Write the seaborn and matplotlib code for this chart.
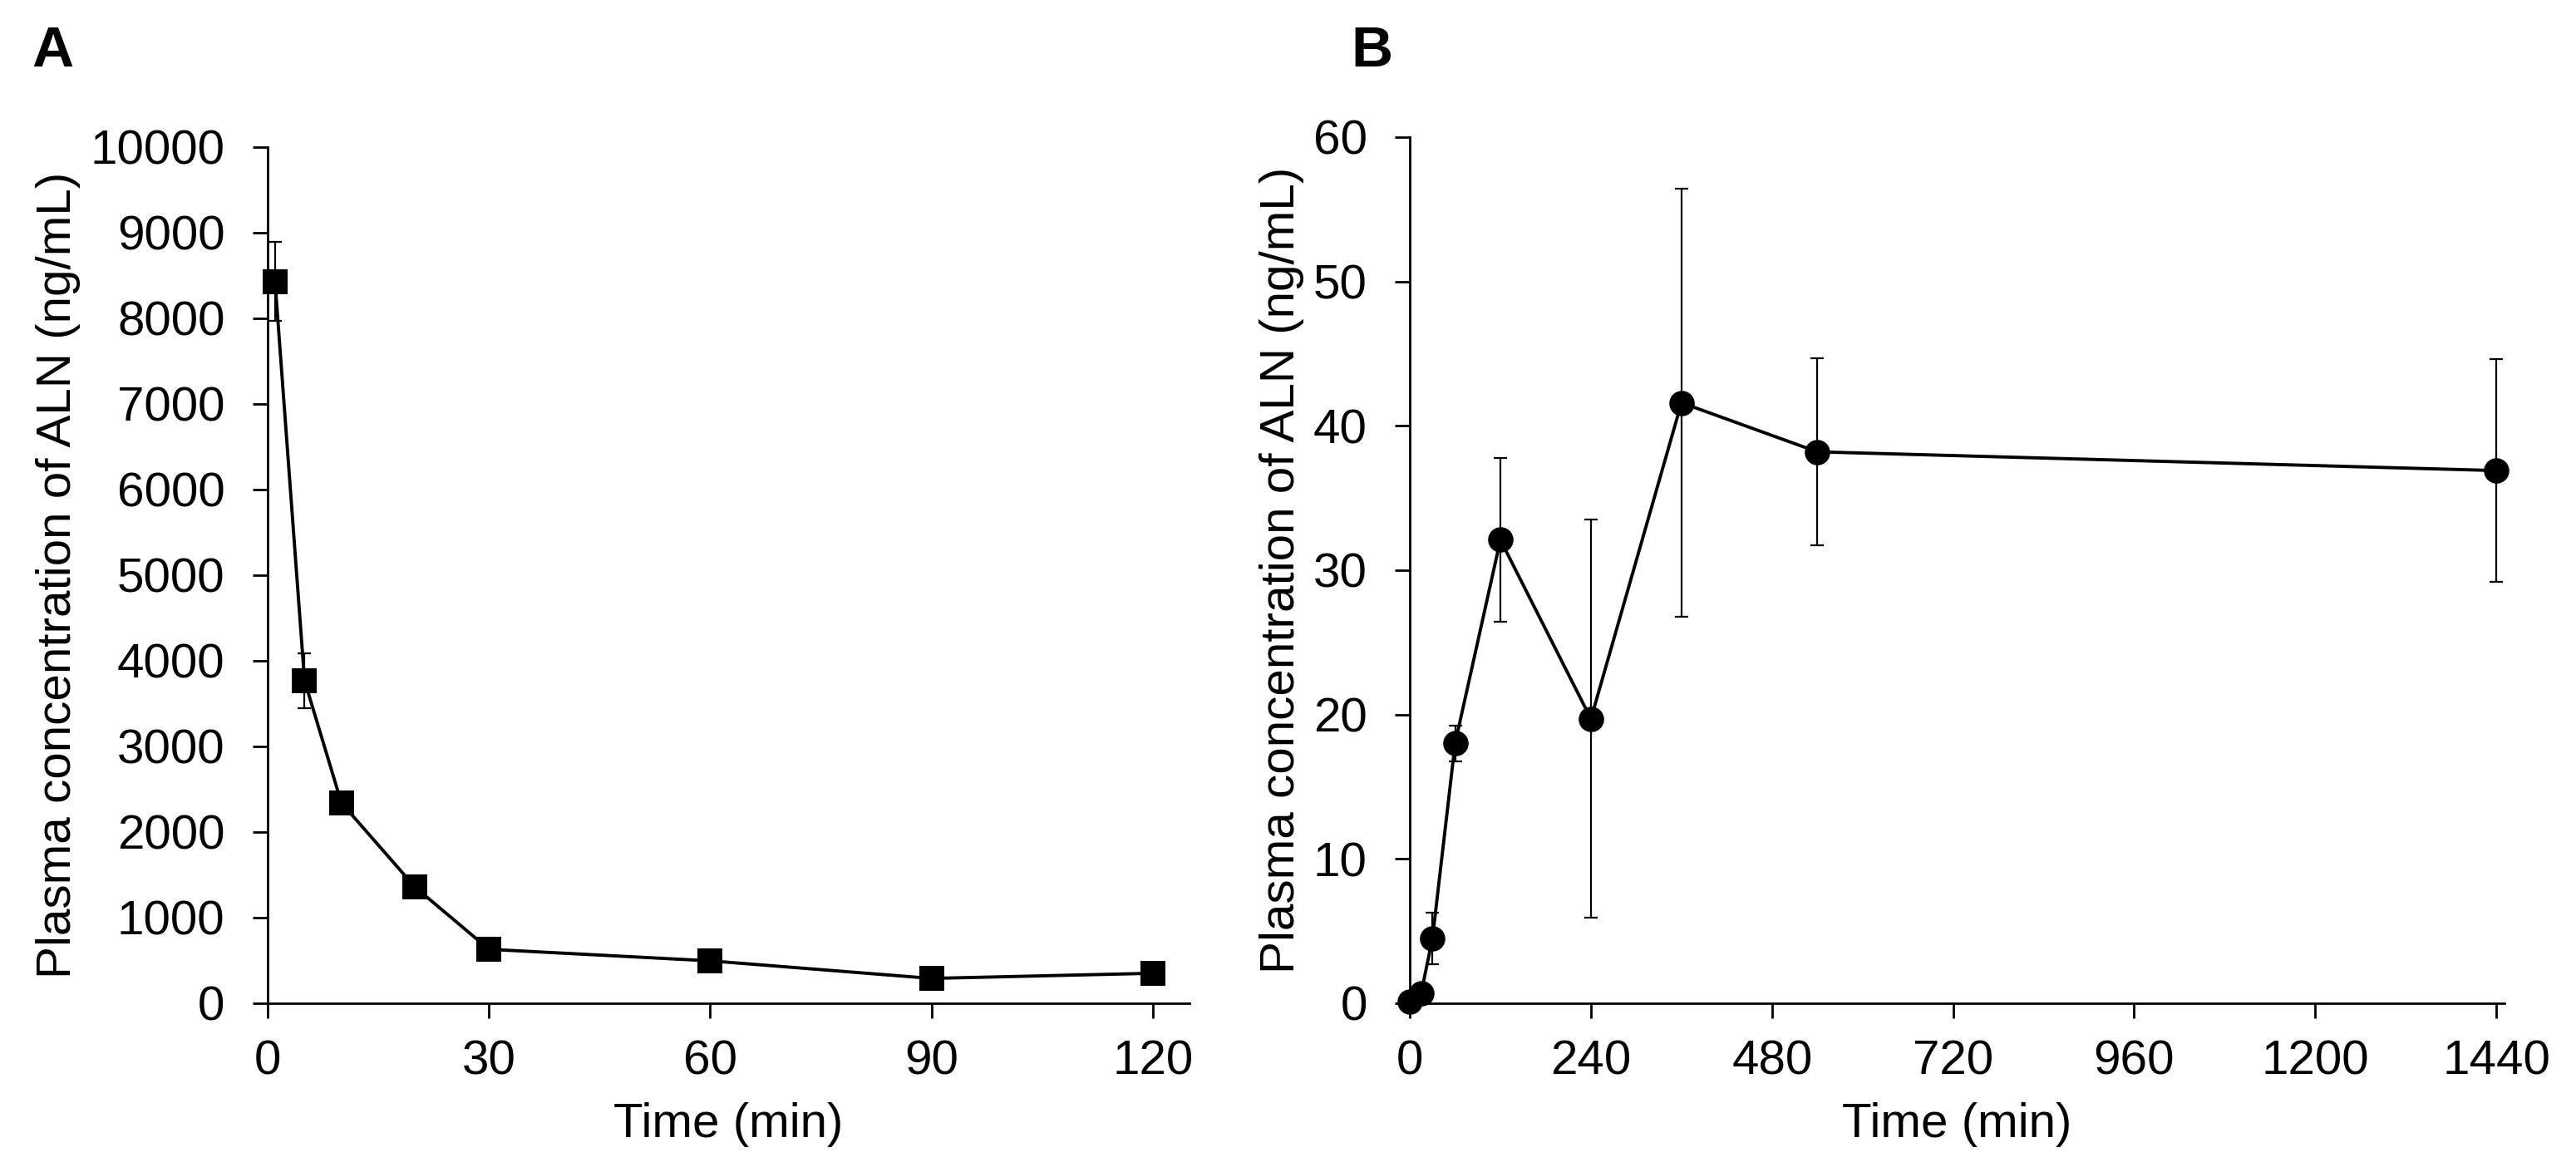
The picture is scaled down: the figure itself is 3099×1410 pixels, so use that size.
import matplotlib
matplotlib.use("Agg")
import matplotlib.pyplot as plt
import seaborn as sns

# Panel A: plasma ALN after i.v. dosing (mean, SD)
time_a = [1, 5, 10, 20, 30, 60, 90, 120]
conc_a = [8430, 3770, 2340, 1355, 630, 495, 290, 350]
sd_a = [460, 320, 90, 70, 50, 40, 30, 40]

# Panel B: plasma ALN, longer sampling (mean, SD)
time_b = [0, 15, 30, 60, 120, 240, 360, 540, 1440]
conc_b = [0.1, 0.7, 4.5, 18.0, 32.1, 19.7, 41.6, 38.2, 36.9]
sd_b = [0.0, 0.3, 1.8, 1.25, 5.7, 13.8, 14.8, 6.5, 7.7]

xticks_a = [0, 30, 60, 90, 120]
yticks_a = [0, 1000, 2000, 3000, 4000, 5000, 6000, 7000, 8000, 9000, 10000]
xticks_b = [0, 240, 480, 720, 960, 1200, 1440]
yticks_b = [0, 10, 20, 30, 40, 50, 60]

ylabel = "Plasma concentration of ALN (ng/mL)"
xlabel = "Time (min)"

sns.set_style("ticks")
plt.rcParams['font.family'] = ['Liberation Sans', 'DejaVu Sans']
# seaborn greys -> plain black like the original figure
plt.rcParams['text.color'] = 'black'
plt.rcParams['axes.labelcolor'] = 'black'
plt.rcParams['xtick.color'] = 'black'
plt.rcParams['ytick.color'] = 'black'
plt.rcParams['axes.edgecolor'] = 'black'

fig = plt.figure(figsize=(15.495, 7.05), dpi=200)
ax_a = fig.add_axes([0.1039, 0.144, 0.3579, 0.7305])
ax_b = fig.add_axes([0.5473, 0.144, 0.4250, 0.7390])


def draw_panel(ax, t, c, sd, marker, xlim, ylim, xticks, yticks):
    ax.errorbar(t, c, yerr=sd, fmt='none', ecolor='black', elinewidth=0.8,
                capsize=3, capthick=0.8, zorder=2, clip_on=False)
    sns.lineplot(x=t, y=c, ax=ax, color='black', linewidth=1.4, marker=marker,
                 markersize=11, markeredgewidth=0, markerfacecolor='black',
                 zorder=3, clip_on=False)
    ax.set_xlim(*xlim)
    ax.set_ylim(*ylim)
    ax.set_xticks(xticks)
    ax.set_yticks(yticks)
    ax.set_xlabel(xlabel, fontsize=21, labelpad=8, color='black')
    ax.set_ylabel(ylabel, fontsize=21, labelpad=4, color='black')
    ax.tick_params(axis='y', direction='out', length=6.5, width=1.0,
                   pad=12, labelsize=21, color='black', labelcolor='black')
    ax.tick_params(axis='x', direction='out', length=6.5, width=1.0,
                   pad=9, labelsize=21, color='black', labelcolor='black')
    for side in ['top', 'right']:
        ax.spines[side].set_visible(False)
    for side in ['left', 'bottom']:
        ax.spines[side].set_linewidth(1.0)
        ax.spines[side].set_color('black')


draw_panel(ax_a, time_a, conc_a, sd_a, 's', (0, 125), (0, 10000), xticks_a, yticks_a)
draw_panel(ax_b, time_b, conc_b, sd_b, 'o', (0, 1451), (0, 60), xticks_b, yticks_b)

fig.text(38 / 3099, 1 - 30 / 1410, "A", fontsize=25, fontweight='bold',
         va='top', ha='left', color='black')
fig.text(1625 / 3099, 1 - 30 / 1410, "B", fontsize=25, fontweight='bold',
         va='top', ha='left', color='black')

fig.savefig("out.png", dpi=200, facecolor='white')
